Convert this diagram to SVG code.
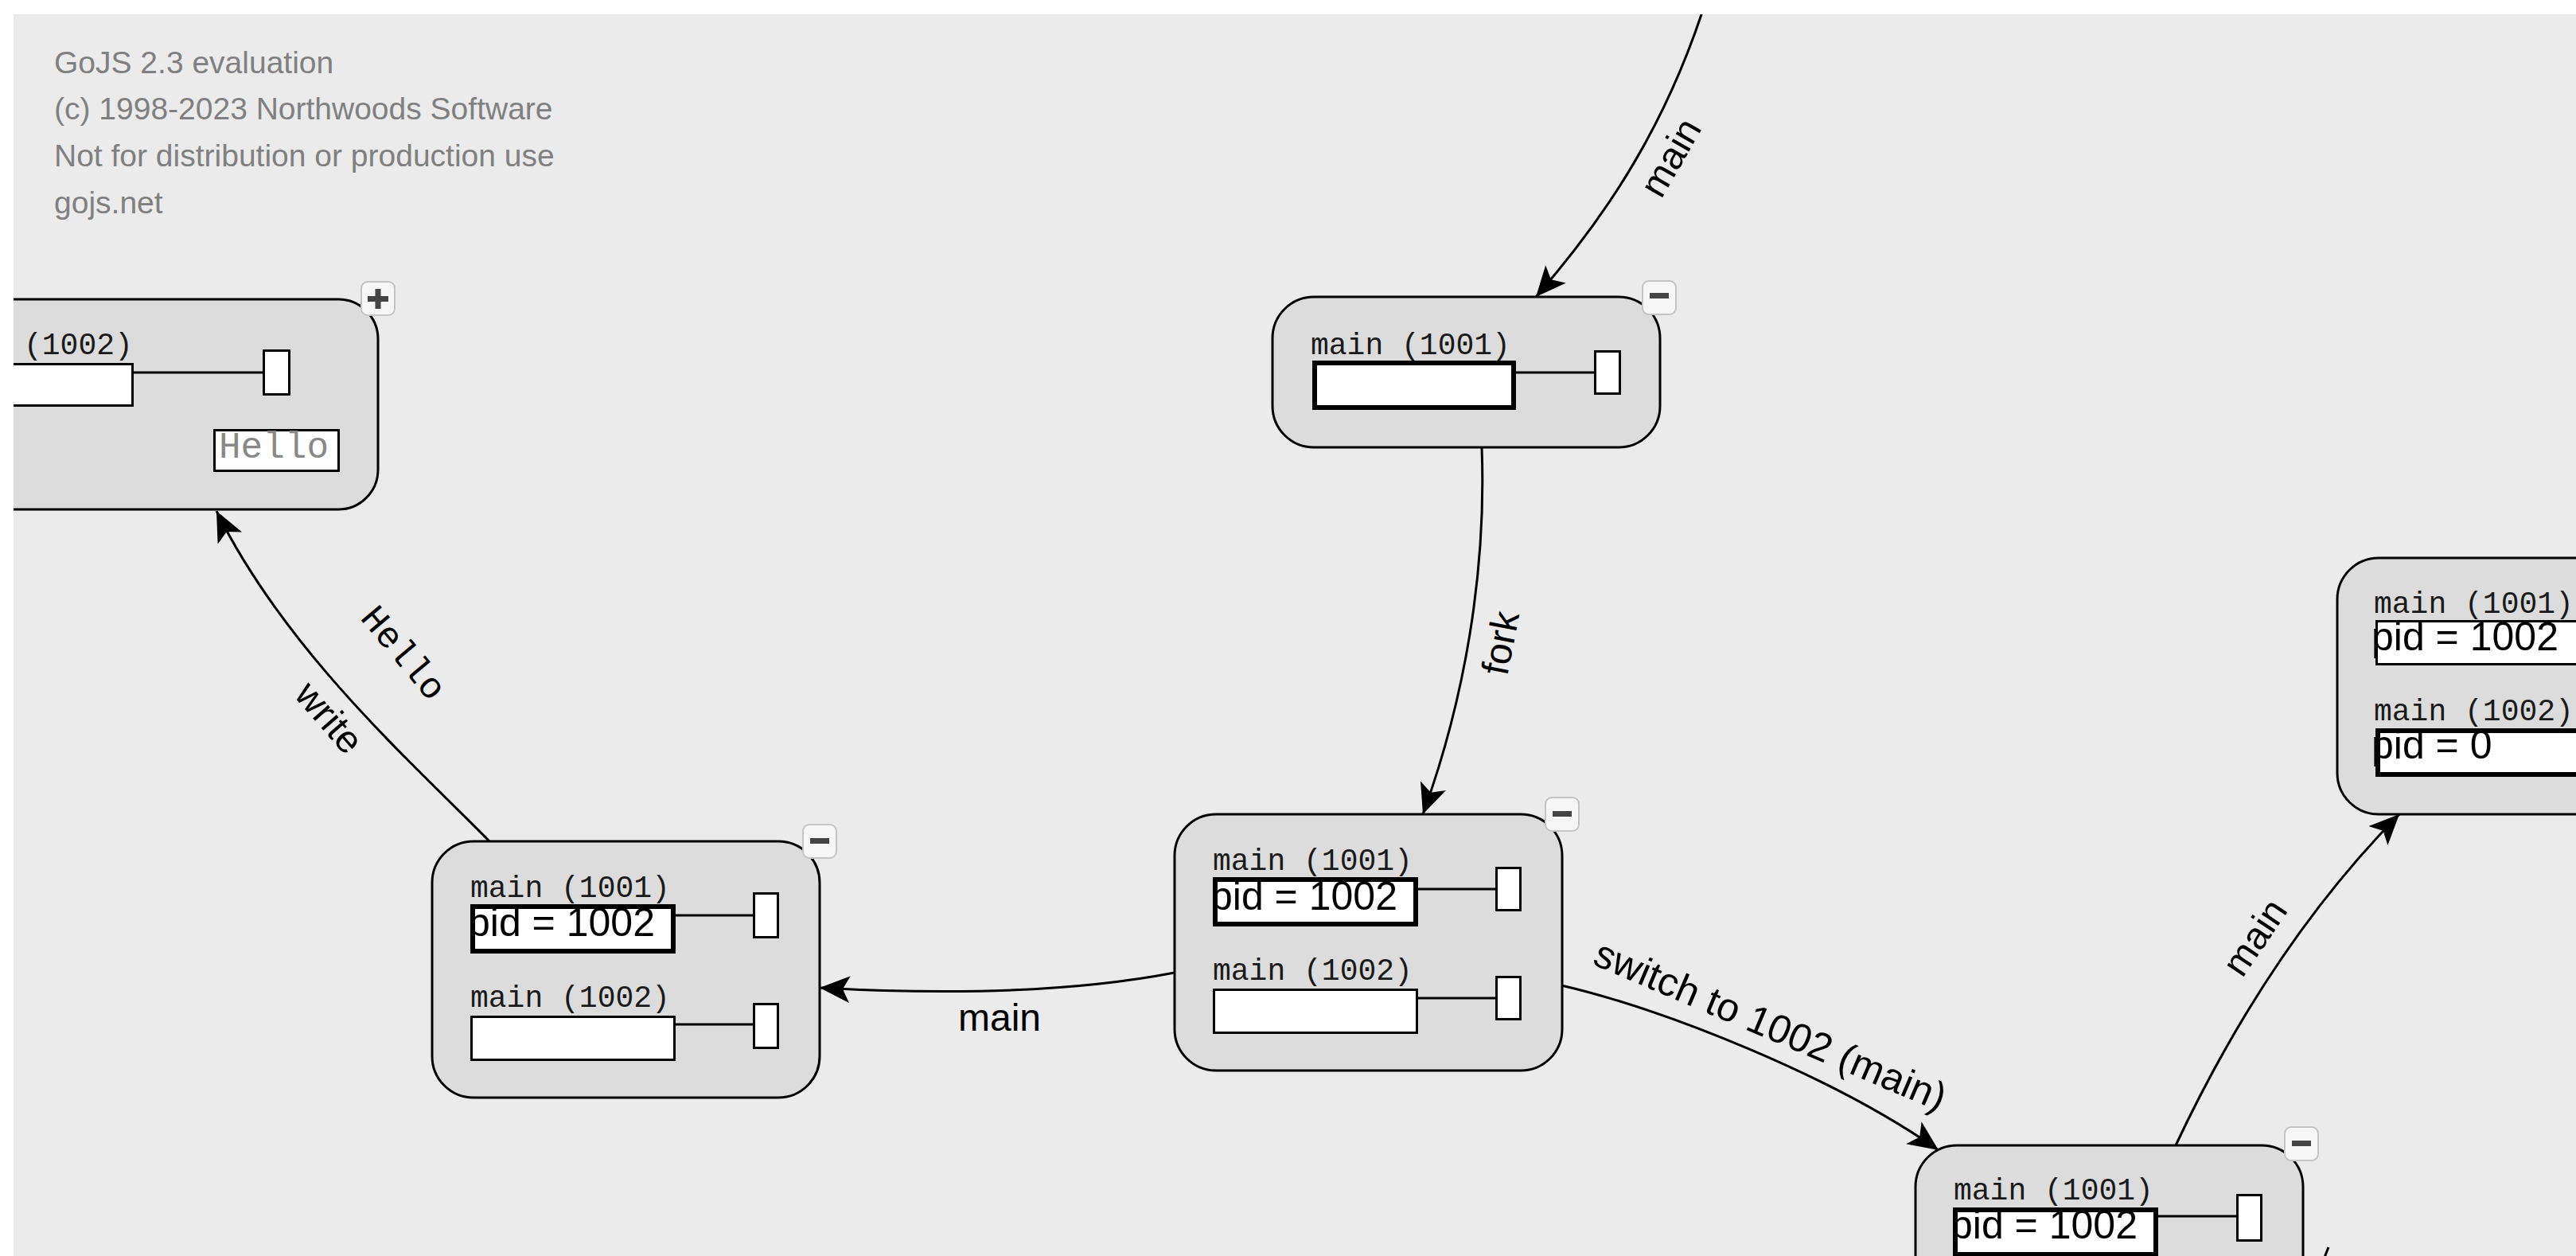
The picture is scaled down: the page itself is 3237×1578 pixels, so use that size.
<svg xmlns="http://www.w3.org/2000/svg" width="3237" height="1578" viewBox="0 0 3237 1578">
<defs>
<clipPath id="canvas"><rect x="17" y="18" width="3220" height="1560"/></clipPath>
<marker id="arrow" markerUnits="userSpaceOnUse" markerWidth="40" markerHeight="36" refX="38" refY="17" orient="auto" viewBox="0 0 40 36">
<path d="M0,0 L38,17 L0,34 L9,17 z" fill="#000"/>
</marker>
<style>
.bg{fill:#ebebeb}
.node{fill:#dcdcdc;stroke:#000;stroke-width:3}
.lbl{font-family:"Liberation Mono","Courier New",monospace;font-size:38px;fill:#1a1a1a}
.box{fill:#fff;stroke:#000;stroke-width:3}
.boxb{fill:#fff;stroke:#000;stroke-width:6}
.wire{stroke:#000;stroke-width:3}
.pid{font-family:"Liberation Sans",Arial,sans-serif;font-size:50px;fill:#000}
.edge{fill:none;stroke:#000;stroke-width:3;marker-end:url(#arrow)}
.stub{fill:none;stroke:#000;stroke-width:3}
.elbl{font-family:"Liberation Sans",Arial,sans-serif;font-size:48px;fill:#000}
.mlbl{font-family:"Liberation Mono","Courier New",monospace;font-size:46px;fill:#000}
.btn{fill:#f6f6f6;stroke:#c4c4c4;stroke-width:2}
.glyph{fill:#444}
.wm{font-family:"Liberation Sans",Arial,sans-serif;font-size:39px;fill:#808080}
</style>
</defs>
<rect x="0" y="0" width="3237" height="1578" fill="#fff"/>
<rect class="bg" x="17" y="18" width="3220" height="1560"/>
<g id="watermark">
<text class="wm" x="68" y="92">GoJS 2.3 evaluation</text>
<text class="wm" x="68" y="150">(c) 1998-2023 Northwoods Software</text>
<text class="wm" x="68" y="209">Not for distribution or production use</text>
<text class="wm" x="68" y="268">gojs.net</text>
</g>
<g clip-path="url(#canvas)">
<g id="connectors">
<path class="edge" d="M2150,-20 C2100,150 2020,270 1930,373"/>
<path class="edge" d="M1862,562 C1868,720 1840,880 1788,1023"/>
<path class="edge" d="M1476,1222 Q1300,1256 1030,1241"/>
<path class="edge" d="M1962,1238 C2090,1268 2300,1350 2436,1445"/>
<path class="edge" d="M2734,1439 C2790,1320 2880,1160 3015,1023"/>
<path class="edge" d="M615,1057 C520,960 360,820 272,642"/>
<path class="stub" d="M2920,1582 L2926,1567"/>
<text class="elbl" transform="translate(2103,200) rotate(-60)" x="0" y="12" text-anchor="middle">main</text>
<text class="elbl" transform="translate(1886,808) rotate(-79)" x="0" y="16" text-anchor="middle">fork</text>
<text class="elbl" x="1256" y="1295" text-anchor="middle">main</text>
<text class="elbl" transform="translate(2224,1290) rotate(23)" x="0" y="15" text-anchor="middle" style="font-size:50px">switch to 1002 (main)</text>
<text class="elbl" transform="translate(2837,1180) rotate(-56)" x="0" y="12" text-anchor="middle">main</text>
<text class="mlbl" transform="translate(505,822) rotate(50)" x="0" y="12" text-anchor="middle">Hello</text>
<text class="elbl" transform="translate(412,903) rotate(49)" x="0" y="14" text-anchor="middle">write</text>
</g>
<g id="node-a">
<rect class="node" x="-150" y="376" width="625" height="264" rx="50"/>
<text class="lbl" x="30" y="445">(1002)</text>
<rect class="box" x="-100" y="457.5" width="266.5" height="52"/>
<line class="wire" x1="168" y1="468" x2="330" y2="468"/>
<rect class="box" x="331.5" y="440.5" width="32" height="55"/>
<rect class="box" x="269.5" y="540.5" width="156" height="51"/>
<text class="mlbl" x="275" y="575" style="fill:#888">Hello</text>
<g id="btn-a"><rect class="btn" x="454" y="354" width="42" height="42" rx="8"/><rect class="glyph" x="462" y="372" width="26" height="7"/><rect class="glyph" x="471.5" y="363" width="7" height="25"/></g>
</g>
<g id="node-b" transform="translate(1599,373)">
<rect class="node" x="0" y="0" width="487" height="189" rx="52"/>
<text class="lbl" x="48" y="72">main (1001)</text>
<rect class="boxb" x="53" y="83" width="250" height="56"/>
<line class="wire" x1="306" y1="95" x2="404" y2="95"/>
<rect class="box" x="405.5" y="68.5" width="31" height="53"/>
<g><rect class="btn" x="465" y="-20" width="42" height="42" rx="8"/><rect class="glyph" x="474" y="-5" width="24" height="7"/></g>
</g>
<g id="node-c" transform="translate(1476,1023)">
<rect class="node" x="0" y="0" width="487" height="322" rx="52"/>
<text class="lbl" x="48" y="70">main (1001)</text>
<rect class="boxb" x="51" y="82" width="252" height="56"/>
<text class="pid" x="45" y="120">pid = 1002</text>
<line class="wire" x1="306" y1="94" x2="404" y2="94"/>
<rect class="box" x="404.5" y="67.5" width="30" height="53"/>
<text class="lbl" x="48" y="208">main (1002)</text>
<rect class="box" x="49.5" y="220.5" width="255" height="54"/>
<line class="wire" x1="306" y1="231" x2="404" y2="231"/>
<rect class="box" x="404.5" y="204.5" width="30" height="53"/>
<g><rect class="btn" x="466" y="-21" width="42" height="42" rx="8"/><rect class="glyph" x="475" y="-4" width="24" height="7"/></g>
</g>
<g id="node-d" transform="translate(543,1057)">
<rect class="node" x="0" y="0" width="487" height="322" rx="52"/>
<text class="lbl" x="48" y="70">main (1001)</text>
<rect class="boxb" x="51" y="82" width="252" height="56"/>
<text class="pid" x="45" y="119">pid = 1002</text>
<line class="wire" x1="306" y1="93" x2="404" y2="93"/>
<rect class="box" x="404.5" y="65.5" width="30" height="55"/>
<text class="lbl" x="48" y="208">main (1002)</text>
<rect class="box" x="49.5" y="220.5" width="255" height="54"/>
<line class="wire" x1="306" y1="230" x2="404" y2="230"/>
<rect class="box" x="404.5" y="204.5" width="30" height="55"/>
<g><rect class="btn" x="466" y="-21" width="42" height="42" rx="8"/><rect class="glyph" x="475" y="-4" width="24" height="7"/></g>
</g>
<g id="node-e" transform="translate(2937,701)">
<rect class="node" x="0" y="0" width="487" height="322" rx="52"/>
<text class="lbl" x="46" y="69">main (1001)</text>
<rect class="box" x="49.5" y="79.5" width="255" height="54"/>
<text class="pid" x="43" y="116">pid = 1002</text>
<text class="lbl" x="46" y="204">main (1002)</text>
<rect class="boxb" x="51" y="217" width="252" height="55"/>
<text class="pid" x="43" y="252">pid = 0</text>
</g>
<g id="node-f" transform="translate(2407,1439)">
<rect class="node" x="0" y="0" width="487" height="322" rx="52"/>
<text class="lbl" x="48" y="68">main (1001)</text>
<rect class="boxb" x="50" y="81" width="252" height="56"/>
<text class="pid" x="44" y="117">pid = 1002</text>
<line class="wire" x1="305" y1="89" x2="404" y2="89"/>
<rect class="box" x="404.5" y="62.5" width="30" height="57"/>
<g><rect class="btn" x="464" y="-23" width="42" height="42" rx="8"/><rect class="glyph" x="473" y="-6" width="24" height="7"/></g>
</g>
</g>
</svg>
